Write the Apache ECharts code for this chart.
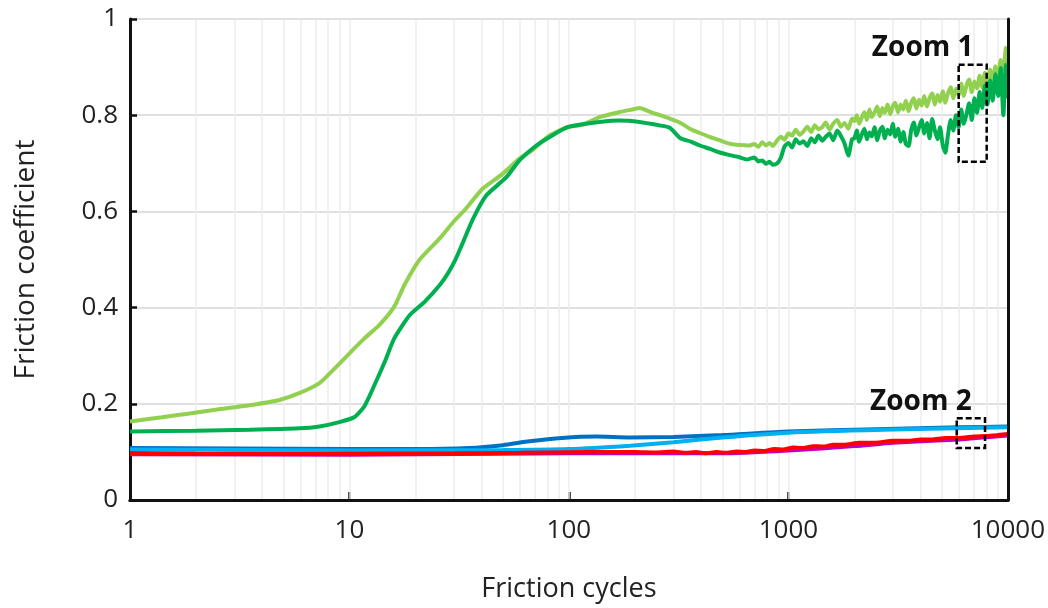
<!DOCTYPE html>
<html>
<head>
<meta charset="utf-8">
<script src="https://cdn.jsdelivr.net/npm/echarts@6/dist/echarts.min.js"></script>
<style>
  html, body { margin: 0; padding: 0; background: #fff; }
  #chart_friction { width: 1048px; height: 608px; }
</style>
</head>
<body>
<div id="chart_friction"></div>
<script>
  // friction cycles (x) and friction coefficient (y)
  var lightGreen = [
    [1, 0.163], [1.4, 0.172], [1.8, 0.179], [2.5, 0.188], [3.5, 0.197], [4.8, 0.208],
    [5.9, 0.222], [7.3, 0.243], [8.5, 0.272], [10, 0.305], [11.7, 0.336], [13.7, 0.364],
    [16, 0.402], [17.8, 0.447], [20.9, 0.5], [25.8, 0.544], [30, 0.58], [34, 0.606],
    [40.4, 0.647], [49.9, 0.678], [59.5, 0.71], [68, 0.727], [81.5, 0.758], [98.5, 0.775],
    [115, 0.78], [138, 0.796], [169, 0.806], [195, 0.812], [210, 0.815], [234, 0.807],
    [260, 0.8], [288, 0.793], [320, 0.785], [355, 0.772], [395, 0.763], [437, 0.755],
    [485, 0.748], [538, 0.741], [600, 0.738], [663, 0.737],
    [700, 0.74], [730, 0.734], [760, 0.744], [790, 0.737], [820, 0.742], [850, 0.736],
    [890, 0.748], [925, 0.755], [960, 0.749], [1000, 0.762], [1040, 0.758], [1080, 0.77],
    [1125, 0.759], [1170, 0.766], [1220, 0.776], [1270, 0.765], [1320, 0.779], [1370, 0.771],
    [1425, 0.775], [1480, 0.785], [1540, 0.77], [1600, 0.782], [1670, 0.79], [1735, 0.776],
    [1800, 0.784], [1875, 0.772], [1950, 0.793],
    [2000, 0.788], [2050, 0.8], [2100, 0.782], [2160, 0.795], [2220, 0.806], [2280, 0.79],
    [2340, 0.812], [2400, 0.796], [2470, 0.806], [2540, 0.818], [2610, 0.798], [2680, 0.815],
    [2750, 0.805], [2830, 0.822], [2910, 0.802], [2990, 0.818], [3070, 0.826], [3160, 0.806],
    [3250, 0.822], [3340, 0.812], [3430, 0.83], [3530, 0.808], [3630, 0.826], [3730, 0.835],
    [3830, 0.814], [3940, 0.832], [4050, 0.82], [4160, 0.84], [4280, 0.818], [4400, 0.836],
    [4520, 0.845], [4650, 0.822], [4780, 0.842], [4910, 0.828], [5050, 0.85], [5190, 0.826],
    [5340, 0.846], [5490, 0.858], [5640, 0.835], [5800, 0.855], [5960, 0.842], [6130, 0.866],
    [6300, 0.84], [6480, 0.862], [6660, 0.874], [6850, 0.848], [7040, 0.87], [7240, 0.856],
    [7440, 0.882], [7650, 0.858], [7860, 0.888], [8080, 0.866], [8310, 0.895], [8540, 0.872],
    [8780, 0.902], [9030, 0.88], [9280, 0.915], [9540, 0.895], [9800, 0.94], [10000, 0.885]
  ];
  var darkGreen = [
    [1, 0.1425], [2, 0.144], [3.5, 0.146], [5.9, 0.149], [7.3, 0.153], [9, 0.162],
    [10.5, 0.172], [11.7, 0.195], [13, 0.239], [14.5, 0.288], [16, 0.336], [18.8, 0.384],
    [22, 0.412], [25.8, 0.447], [28, 0.47], [30.2, 0.497], [33, 0.537], [36.6, 0.585],
    [42, 0.633], [51.9, 0.671], [59.5, 0.706], [71, 0.737], [84, 0.758], [98.5, 0.775],
    [115, 0.781], [138, 0.786], [169, 0.789], [210, 0.786], [257, 0.779], [288, 0.774],
    [322, 0.752], [360, 0.745], [395, 0.737], [440, 0.73], [483, 0.723], [540, 0.717],
    [593, 0.713], [650, 0.708],
    [700, 0.712], [730, 0.704], [760, 0.706], [790, 0.699], [820, 0.703], [850, 0.697],
    [890, 0.7], [925, 0.712], [960, 0.735], [1000, 0.742], [1040, 0.733], [1080, 0.75],
    [1125, 0.741], [1170, 0.746], [1220, 0.736], [1270, 0.752], [1320, 0.744], [1370, 0.758],
    [1425, 0.747], [1480, 0.755], [1540, 0.762], [1600, 0.748], [1670, 0.768], [1735, 0.757],
    [1800, 0.742], [1875, 0.716], [1950, 0.75],
    [2000, 0.752], [2050, 0.768], [2100, 0.745], [2160, 0.76], [2220, 0.772], [2280, 0.75],
    [2340, 0.764], [2400, 0.756], [2470, 0.775], [2540, 0.748], [2610, 0.768], [2680, 0.776],
    [2750, 0.752], [2830, 0.77], [2910, 0.76], [2990, 0.782], [3070, 0.755], [3160, 0.772],
    [3250, 0.745], [3340, 0.765], [3430, 0.74], [3530, 0.736], [3630, 0.77], [3730, 0.785],
    [3830, 0.758], [3940, 0.775], [4050, 0.79], [4160, 0.762], [4280, 0.784], [4400, 0.752],
    [4520, 0.792], [4650, 0.768], [4780, 0.75], [4910, 0.775], [5050, 0.738], [5190, 0.722],
    [5340, 0.76], [5490, 0.79], [5640, 0.768], [5800, 0.8], [5960, 0.775], [6130, 0.812],
    [6300, 0.782], [6480, 0.802], [6660, 0.825], [6850, 0.79], [7040, 0.835], [7240, 0.805],
    [7440, 0.848], [7650, 0.815], [7860, 0.862], [8080, 0.822], [8310, 0.872], [8540, 0.83],
    [8780, 0.885], [9030, 0.84], [9280, 0.898], [9540, 0.8], [9800, 0.905], [10000, 0.835]
  ];
  var darkBlue = [
    [1, 0.108], [3, 0.107], [10, 0.106], [20, 0.106], [35, 0.108], [50, 0.114],
    [66, 0.122], [93, 0.129], [133, 0.132], [190, 0.13], [300, 0.131], [500, 0.135],
    [1000, 0.1425], [2500, 0.147], [6000, 0.151], [10000, 0.153]
  ];
  var lightBlue = [
    [1, 0.105], [10, 0.103], [50, 0.104], [100, 0.106], [190, 0.113], [300, 0.12],
    [500, 0.13], [1000, 0.14], [2700, 0.146], [10000, 0.151]
  ];
  var redLine = [
    [1, 0.0975], [2, 0.096], [4, 0.0955], [10, 0.096], [30, 0.097], [60, 0.098],
    [100, 0.0995], [150, 0.1], [200, 0.1], [250, 0.099], [300, 0.101], [340, 0.098],
    [380, 0.1], [420, 0.097], [470, 0.1], [520, 0.098], [580, 0.101], [640, 0.1],
    [700, 0.103], [780, 0.102], [860, 0.106], [950, 0.105], [1050, 0.109], [1150, 0.108],
    [1300, 0.112], [1450, 0.111], [1600, 0.115], [1800, 0.115], [2100, 0.119], [2500, 0.119],
    [3000, 0.123], [3500, 0.123], [4000, 0.126], [4500, 0.126], [5200, 0.129], [6000, 0.129],
    [7000, 0.132], [8000, 0.133], [9000, 0.135], [10000, 0.137]
  ];
  var magentaLine = [
    [1, 0.095], [10, 0.094], [100, 0.097], [500, 0.097], [1000, 0.103], [2000, 0.112],
    [3000, 0.119], [6000, 0.126], [10000, 0.134]
  ];
  var minorGridX = [2, 3, 4, 5, 6, 7, 8, 9, 10, 20, 30, 40, 50, 60, 70, 80, 90, 100,
    200, 300, 400, 500, 600, 700, 800, 900, 1000, 2000, 3000, 4000, 5000, 6000, 7000, 8000, 9000];
  var zoomBoxes = [
    { name: 'Zoom 1', x: [5970, 8010], y: [0.703, 0.905] },
    { name: 'Zoom 2', x: [5850, 7870], y: [0.108, 0.17] }
  ];

  var fontName = '"Open Sans", sans-serif';
  var myChart = echarts.init(document.getElementById('chart_friction'), null, { renderer: 'canvas' });

  function lineSeries(name, data, color, z) {
    return {
      name: name,
      type: 'line',
      data: data,
      showSymbol: false,
      smooth: 0.2,
      z: z,
      lineStyle: { color: color, width: 4 },
      itemStyle: { color: color }
    };
  }

  var frameLine = { show: true, lineStyle: { color: '#111', width: 3 } };

  var option = {
    backgroundColor: '#fff',
    animation: false,
    grid: {
      left: 130, right: 40, top: 19, bottom: 106,
      containLabel: false
    },
    xAxis: [
      {
        type: 'log',
        logBase: 10,
        min: 1,
        max: 10000,
        name: 'Friction cycles',
        nameLocation: 'middle',
        nameGap: 76,
        nameTextStyle: { fontFamily: fontName, fontSize: 27, color: '#222' },
        axisLine: frameLine,
        axisTick: { show: true, inside: true, length: 8, lineStyle: { color: '#111', width: 2.5 } },
        axisLabel: {
          fontFamily: fontName, fontSize: 26, color: '#222', margin: 18,
          formatter: function (v) { return String(Math.round(v)); }
        },
        splitLine: { show: false }
      },
      {
        type: 'log', logBase: 10, min: 1, max: 10000, position: 'top', z: 10,
        axisLine: frameLine, axisTick: { show: false }, axisLabel: { show: false },
        splitLine: { show: false }
      }
    ],
    yAxis: [
      {
        type: 'value',
        min: 0,
        max: 1,
        interval: 0.2,
        name: 'Friction coefficient',
        nameLocation: 'middle',
        nameGap: 90,
        nameTextStyle: { fontFamily: fontName, fontSize: 28, color: '#222' },
        axisLine: frameLine,
        axisTick: { show: true, inside: true, length: 7, lineStyle: { color: '#111', width: 2.5 } },
        axisLabel: { fontFamily: fontName, fontSize: 26, color: '#222', margin: 12 },
        splitLine: { show: true, lineStyle: { color: '#e0e0e0', width: 2 } }
      },
      {
        type: 'value', min: 0, max: 1, interval: 0.2, position: 'right', z: 10,
        axisLine: frameLine, axisTick: { show: false }, axisLabel: { show: false },
        splitLine: { show: false }
      }
    ],
    series: [
      {
        name: 'grid',
        type: 'line',
        data: [],
        z: 1,
        silent: true,
        markLine: {
          z: 1,
          silent: true,
          symbol: ['none', 'none'],
          label: { show: false },
          lineStyle: { color: '#ececec', width: 1.5, type: 'solid' },
          data: minorGridX.map(function (v) { return { xAxis: v }; })
        }
      },
      lineSeries('dark blue', darkBlue, '#0070c0', 2),
      lineSeries('light blue', lightBlue, '#00b0f0', 3),
      lineSeries('magenta', magentaLine, '#c000c0', 4),
      lineSeries('red', redLine, '#ff0000', 5),
      lineSeries('light green', lightGreen, '#92d050', 6),
      lineSeries('dark green', darkGreen, '#00b050', 7),
      {
        name: 'zoom',
        type: 'line',
        data: [],
        z: 10,
        silent: true,
        markArea: {
          z: 10,
          silent: true,
          itemStyle: {
            color: 'rgba(0,0,0,0)',
            borderColor: '#000',
            borderWidth: 2.5,
            borderType: [6, 3]
          },
          label: {
            show: true,
            position: 'top',
            offset: [-50, 0],
            distance: 1,
            fontFamily: fontName,
            fontSize: 28,
            fontWeight: 'bold',
            color: '#111'
          },
          data: zoomBoxes.map(function (b) {
            return [
              { name: b.name, xAxis: b.x[0], yAxis: b.y[1] },
              { xAxis: b.x[1], yAxis: b.y[0] }
            ];
          })
        }
      }
    ]
  };

  myChart.setOption(option);
  window.addEventListener('resize', function () { myChart.resize(); });
</script>
</body>
</html>
